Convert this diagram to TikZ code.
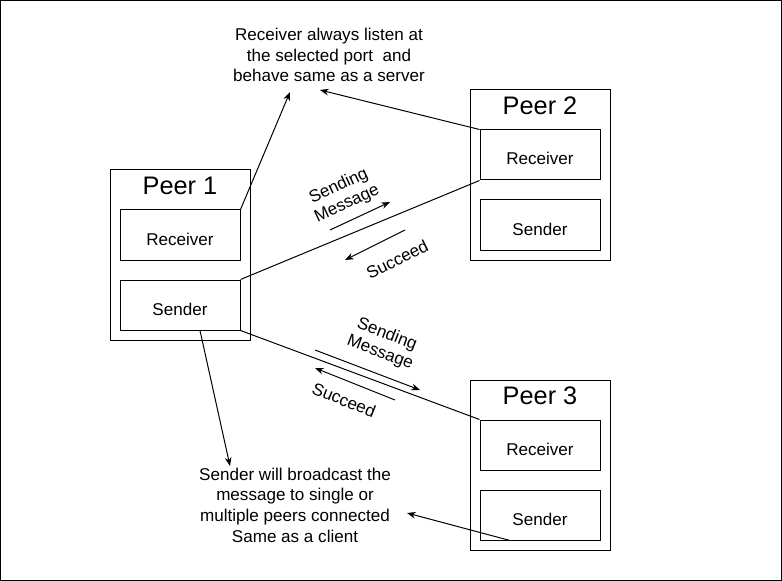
\documentclass[tikz,border=0pt]{standalone}
\usepackage{fontspec}
\setmainfont{Liberation Sans}
\usetikzlibrary{arrows.meta}
\tikzset{
  peer/.style={draw, minimum width=105pt, minimum height=127.5pt, inner sep=0pt},
  peertitle/.style={font=\fontsize{19}{21}\selectfont, inner sep=0pt},
  role/.style={draw, minimum width=90pt, minimum height=37.5pt, inner sep=0pt,
    text height=15pt, text depth=0pt},
  note/.style={align=center, font=\fontsize{12.8}{15.5}\selectfont, inner sep=0pt},
  msg/.style={align=center, sloped, font=\fontsize{12.8}{14.5}\selectfont, inner sep=2pt},
  tip/.style={-{Stealth[length=6.5pt,width=5pt]}}
}

\begin{document}
\begin{tikzpicture}[x=0.75pt, y=-0.75pt, line width=0.75pt, font=\fontsize{12.8}{15}\selectfont]
\newcommand{\peerbox}[4]{%
  \node[peer] (#1) at (#2+70,#3+85) {};
  \node[peertitle] (#1t) at (#2+70,#3+16) {Peer #4};
  \node[role] (#1r) at (#2+70,#3+65) {Receiver};
  \node[role] (#1s) at (#2+70,#3+135) {Sender};}
\useasboundingbox (0,0) rectangle (782,581);
\draw (0.5,0.5) rectangle (781,580);
\peerbox{p1}{110}{170}{1}
\peerbox{p2}{470}{90}{2}
\peerbox{p3}{470}{380}{3}
\node[note] (listen) at (329,55)
  {Receiver always listen at\\the selected port\ \ and\\behave same as a server};
\node[note] (bcast) at (295,505)
  {Sender will broadcast the\\message to single or\\multiple peers connected\\Same as a client};
\coordinate (tipa) at (290,92);
\coordinate (tipb) at (320,90);
\coordinate (tipc) at (230,466);
\coordinate (tipd) at (407,513);
\coordinate (s1a) at (330,230);
\coordinate (s1b) at (390,202);
\coordinate (r1a) at (405,230);
\coordinate (r1b) at (345,260);
\coordinate (s2a) at (315,350);
\coordinate (s2b) at (420,390);
\coordinate (r2a) at (395,400);
\coordinate (r2b) at (315,368);
\draw (p1s.north east) -- (p2r.south west);
\draw (p1s.south east) -- (p3r.north west);
\draw[tip] (p1r.north east) -- (tipa);
\draw[tip] (p2r.north west) -- (tipb);
\draw[tip] ([xshift=15pt]p1s.south) -- (tipc);
\draw[tip] ([xshift=-22.5pt]p3s.south) -- (tipd);
\draw[tip] (s1a) -- node[msg, above=4pt, pos=0.4] {Sending\\Message} (s1b);
\draw[tip] (r1a) -- node[msg, below=10pt, pos=0.3] {Succeed} (r1b);
\draw[tip] (s2a) -- node[msg, above=7pt, pos=0.55] {Sending\\Message} (s2b);
\draw[tip] (r2a) -- node[msg, below=7pt, pos=0.55] {Succeed} (r2b);
\end{tikzpicture}
\end{document}
